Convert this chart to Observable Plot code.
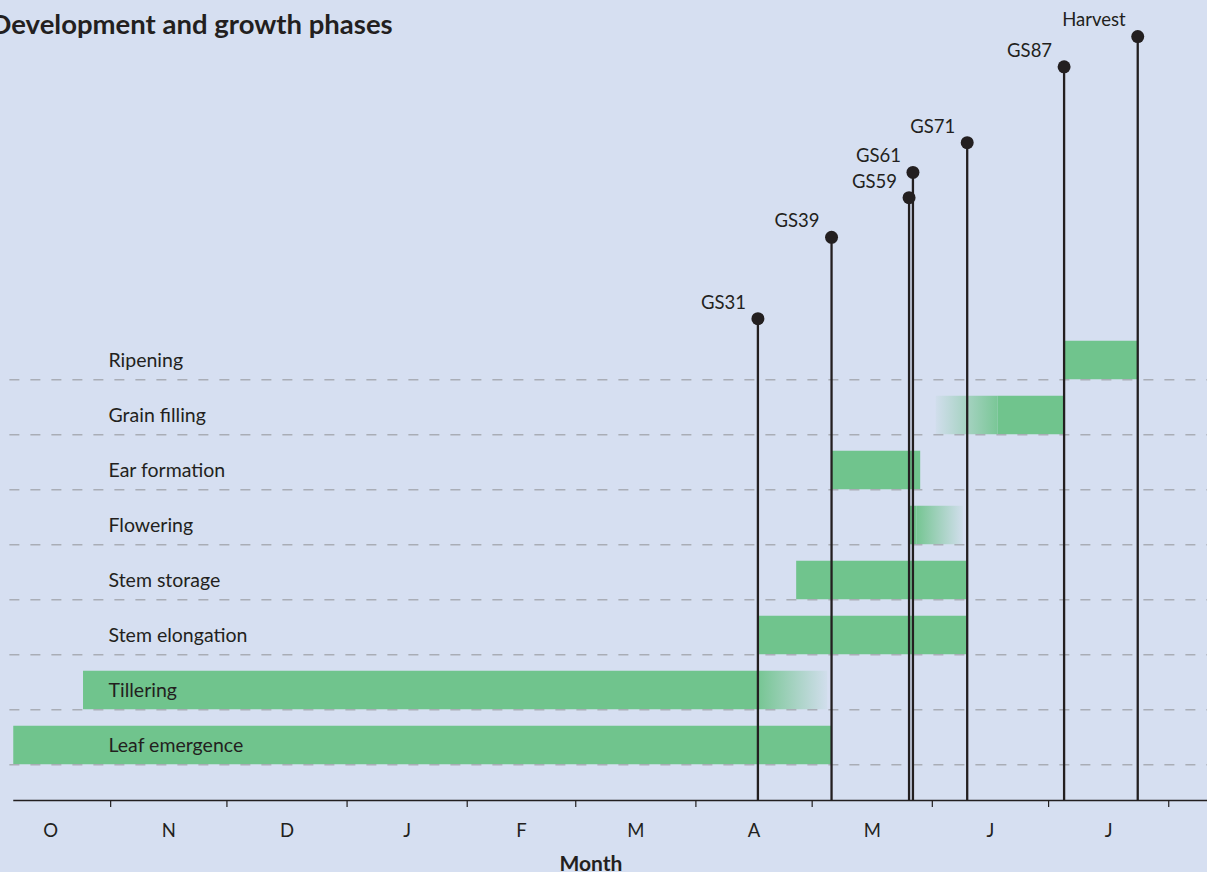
<!DOCTYPE html>
<html>
<head>
<meta charset="utf-8">
<script src="https://cdn.jsdelivr.net/npm/d3@7"></script>
<script src="https://cdn.jsdelivr.net/npm/@observablehq/plot@0.6"></script>
<style>
  html, body { margin: 0; padding: 0; background: #d6dff1; overflow: hidden; }
  #chart svg { display: block; margin-left: -10px; max-width: none !important; width: 1217px !important; height: 872px !important; }
</style>
</head>
<body>
<div id="chart"></div>
<script>
// ---- data ----
const title = "Development and growth phases";
const axisTitle = "Month";
const monthLabels = ["O", "N", "D", "J", "F", "M", "A", "M", "J", "J"];

const phaseNames = ["Leaf emergence", "Tillering", "Stem elongation", "Stem storage",
                    "Flowering", "Ear formation", "Grain filling", "Ripening"];
const phaseStarts = ["2022-10-07", "2022-10-25", "2023-04-17", "2023-04-27",
                     "2023-05-26", "2023-05-06", "2023-06-18", "2023-07-05"];
const phaseEnds   = ["2023-05-06", "2023-04-17", "2023-06-10", "2023-06-10",
                     "2023-05-28", "2023-05-29", "2023-07-05", "2023-07-24"];
// uncertain (fading) boundaries
const phaseFadeOutEnds  = [null, "2023-05-05", null, null, "2023-06-09", null, null, null];
const phaseFadeInStarts = [null, null, null, null, null, null, "2023-06-02", null];

const eventNames  = ["GS31", "GS39", "GS59", "GS61", "GS71", "GS87", "Harvest"];
const eventDates  = ["2023-04-17", "2023-05-06", "2023-05-26", "2023-05-27",
                     "2023-06-10", "2023-07-05", "2023-07-24"];
const eventLevels = [8.11, 9.59, 10.31, 10.77, 11.31, 12.69, 13.24];

const seasonStart = "2022-10-01";
const seasonEnd = "2023-08-11";

// ---- build tables ----
const D = s => new Date(s);
const phases = phaseNames.map((name, i) => ({
  name, row: i, start: D(phaseStarts[i]), end: D(phaseEnds[i]),
  fadeOutEnd: phaseFadeOutEnds[i] ? D(phaseFadeOutEnds[i]) : null,
  fadeInStart: phaseFadeInStarts[i] ? D(phaseFadeInStarts[i]) : null
}));
const events = eventNames.map((name, i) => ({name, date: D(eventDates[i]), level: eventLevels[i]}));

const monthStarts = d3.utcMonth.range(D("2022-10-01"), D("2023-08-02"));
const months = monthLabels.map((label, i) => ({
  label, mid: new Date((+monthStarts[i] + +monthStarts[i + 1]) / 2)
}));
const tickDates = monthStarts.slice(1);

const INK = "#231f20";
const GREEN = "#70c48d";
const BAR_H = 0.7;
const AXIS_Y = -0.65;

const chart = Plot.plot({
  width: 1217,
  height: 872,
  marginLeft: 0,
  marginRight: 0,
  marginTop: 30,
  marginBottom: 72,
  style: {background: "#d6dff1", fontFamily: "Lato, 'Open Sans', sans-serif", color: INK, overflow: "visible"},
  x: {type: "utc", domain: [D(seasonStart), D(seasonEnd)]},
  y: {domain: [AXIS_Y, 13.35], axis: null},
  marks: [
    // solid bars
    Plot.rect(phases, {x1: "start", x2: "end", y1: d => d.row, y2: d => d.row + BAR_H, fill: GREEN}),
    // fading ends
    Plot.rect(phases.filter(d => d.fadeOutEnd), {x1: "end", x2: "fadeOutEnd", y1: d => d.row, y2: d => d.row + BAR_H, fill: "url(#fadeOut)"}),
    Plot.rect(phases.filter(d => d.fadeInStart), {x1: "fadeInStart", x2: "start", y1: d => d.row, y2: d => d.row + BAR_H, fill: "url(#fadeIn)"}),
    // dashed row lines
    Plot.ruleY(phases, {y: "row", x1: () => D("2022-10-06"), x2: () => D(seasonEnd), stroke: "#a9adb6", strokeWidth: 1.6, strokeDasharray: "10,11"}),
    // axis line + ticks
    Plot.ruleY([AXIS_Y], {x1: () => D("2022-10-07"), x2: () => D(seasonEnd), stroke: INK, strokeWidth: 1.4}),
    Plot.axisX({ticks: tickDates, tickSize: 7, tickFormat: () => "", label: null, stroke: INK, strokeWidth: 1.2}),
    Plot.text(months, {x: "mid", text: "label", frameAnchor: "bottom", lineAnchor: "middle", dy: 31, fontSize: 18.5, fill: INK}),
    Plot.text([axisTitle], {frameAnchor: "bottom", lineAnchor: "middle", dy: 64, dx: -8, fontSize: 21, fontWeight: "bold", fill: INK}),
    // event stems
    Plot.ruleX(events, {x: "date", y1: AXIS_Y, y2: "level", stroke: INK, strokeWidth: 2.3}),
    Plot.dot(events, {x: "date", y: "level", r: 6.5, fill: INK}),
    Plot.text(events, {x: "date", y: "level", text: "name", textAnchor: "end", dx: -12, dy: -16, fontSize: 18.5, fill: INK}),
    // phase labels
    Plot.text(phases, {y: d => d.row + BAR_H / 2, text: "name", frameAnchor: "left", lineAnchor: "middle", dx: 118, textAnchor: "start", fontSize: 19.5, fill: INK}),
    // title
    Plot.text([title], {frameAnchor: "top-left", lineAnchor: "middle", dy: -5, textAnchor: "start", fontSize: 27.5, fontWeight: "bold", letterSpacing: 0.9, fill: INK})
  ]
});

const defs = d3.select(chart).insert("defs", ":first-child");
const fo = defs.append("linearGradient").attr("id", "fadeOut").attr("x1", 0).attr("x2", 1).attr("y1", 0).attr("y2", 0);
fo.append("stop").attr("offset", 0).attr("stop-color", GREEN).attr("stop-opacity", 0.95);
fo.append("stop").attr("offset", 1).attr("stop-color", GREEN).attr("stop-opacity", 0.05);
const fi = defs.append("linearGradient").attr("id", "fadeIn").attr("x1", 0).attr("x2", 1).attr("y1", 0).attr("y2", 0);
fi.append("stop").attr("offset", 0).attr("stop-color", GREEN).attr("stop-opacity", 0.05);
fi.append("stop").attr("offset", 1).attr("stop-color", GREEN).attr("stop-opacity", 0.9);

document.getElementById("chart").append(chart);
</script>
</body>
</html>
